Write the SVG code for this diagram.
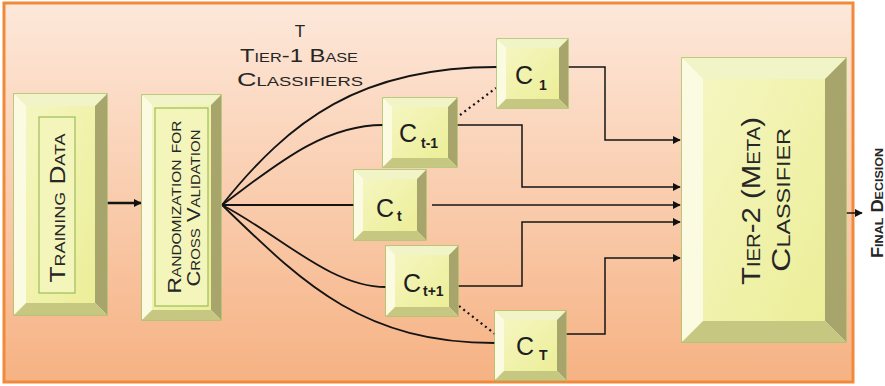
<svg xmlns="http://www.w3.org/2000/svg" width="885" height="386" viewBox="0 0 885 386">
<defs>
<linearGradient id="bg" x1="0" y1="0" x2="0" y2="1">
<stop offset="0" stop-color="#fde8da"/>
<stop offset="1" stop-color="#f6b283"/>
</linearGradient>
<linearGradient id="face" x1="0" y1="0" x2="1" y2="1">
<stop offset="0" stop-color="#f5f6c0"/>
<stop offset="1" stop-color="#ecee98"/>
</linearGradient>
<marker id="arr" viewBox="0 0 10 10" refX="9" refY="5" markerWidth="8" markerHeight="8" markerUnits="userSpaceOnUse" orient="auto">
<path d="M0,0 L10,5 L0,10 z" fill="#111"/>
</marker>
<style>
.out{fill:#fafbd8;stroke:#a6c46a;stroke-width:1.5}
.top{fill:#f1f4c6}
.lft{fill:#fafbe0}
.rgt{fill:#a8a56c}
.bot{fill:#c6c780}
.face{fill:url(#face)}
.inner{fill:#f3f5bb;stroke:#9dbd5a;stroke-width:1.2}
.t{font-family:"Liberation Sans",Arial,sans-serif;fill:#262626;font-variant:small-caps}
.c{font-family:"Liberation Sans",Arial,sans-serif;fill:#1e1e1e;font-size:25px}
.s{font-size:14px;font-weight:bold}
.ln{fill:none;stroke:#141414;stroke-width:1.8}
.ol{fill:none;stroke:#141414;stroke-width:1.5}
.dot{fill:none;stroke:#141414;stroke-width:2.2;stroke-dasharray:2 3.5}
</style>
</defs>
<rect x="4" y="3" width="849" height="379" fill="url(#bg)" stroke="#f08a3a" stroke-width="3"/>

<g id="connectors">
<line x1="107" y1="203" x2="141" y2="203" stroke="#141414" stroke-width="2.6" marker-end="url(#arr)"/>
<path class="ln" d="M222,205 C290,120 360,67 497,67"/>
<path class="ln" d="M222,205 C270,170 320,125 383,125"/>
<path class="ln" d="M222,205 L354,205"/>
<path class="ln" d="M222,205 C280,235 330,287 386,287"/>
<path class="ln" d="M222,205 C300,280 360,343 495,343"/>
<path class="ol" d="M568,67 H605 V140 H680" marker-end="url(#arr)"/>
<path class="ol" d="M457,125 H522 V187 H680" marker-end="url(#arr)"/>
<path class="ol" d="M432,205 H680" marker-end="url(#arr)"/>
<path class="ol" d="M458,286 H522 V222 H680" marker-end="url(#arr)"/>
<path class="ol" d="M566,334 H605 V258 H680" marker-end="url(#arr)"/>
<path class="ol" d="M846,213 H862" marker-end="url(#arr)"/>
<line class="dot" x1="460" y1="115" x2="496" y2="88"/>
<line class="dot" x1="459" y1="306" x2="495" y2="334"/>
</g>

<g id="training">
<rect class="out" x="14" y="94" width="93" height="221"/>
<polygon class="top" points="14,94 107,94 95,106 26,106"/>
<polygon class="lft" points="14,94 26,106 26,303 14,315"/>
<polygon class="rgt" points="107,94 107,315 95,303 95,106"/>
<polygon class="bot" points="14,315 107,315 95,303 26,303"/>
<rect class="face" x="26" y="106" width="69" height="197"/>
<rect class="inner" x="39" y="117" width="36" height="176"/>
<text class="t" font-size="22" text-anchor="middle" textLength="149" lengthAdjust="spacingAndGlyphs" transform="translate(65,208) rotate(-90)">Training Data</text>
</g>

<g id="randomization">
<rect class="out" x="142" y="95" width="79" height="225"/>
<polygon class="top" points="142,95 221,95 211,105 152,105"/>
<polygon class="lft" points="142,95 152,105 152,310 142,320"/>
<polygon class="rgt" points="221,95 221,320 211,310 211,105"/>
<polygon class="bot" points="142,320 221,320 211,310 152,310"/>
<rect class="face" x="152" y="105" width="59" height="205"/>
<rect class="inner" x="155" y="108" width="53" height="198"/>
<text class="t" font-size="19" text-anchor="middle" textLength="173" lengthAdjust="spacingAndGlyphs" transform="translate(181,207) rotate(-90)">Randomization for</text>
<text class="t" font-size="19" text-anchor="middle" textLength="157" lengthAdjust="spacingAndGlyphs" transform="translate(200,208) rotate(-90)">Cross Validation</text>
</g>

<g id="label-t">
<text class="t" font-size="17" x="300" y="37" text-anchor="middle">T</text>
<text class="t" font-size="19" x="299" y="62" text-anchor="middle" textLength="118" lengthAdjust="spacingAndGlyphs">Tier-1 Base</text>
<text class="t" font-size="19" x="300" y="86" text-anchor="middle" textLength="126" lengthAdjust="spacingAndGlyphs">Classifiers</text>
</g>

<g id="c1">
<rect class="out" x="497" y="39" width="71" height="69"/>
<polygon class="top" points="497,39 568,39 559,48 506,48"/>
<polygon class="lft" points="497,39 506,48 506,99 497,108"/>
<polygon class="rgt" points="568,39 568,108 559,99 559,48"/>
<polygon class="bot" points="497,108 568,108 559,99 506,99"/>
<rect class="face" x="506" y="48" width="53" height="51"/>
<text class="c" x="515" y="84">C<tspan class="s" x="539" y="90" font-weight="normal" font-size="15">1</tspan></text>
</g>

<g id="ct-1">
<rect class="out" x="383" y="98" width="74" height="69"/>
<polygon class="top" points="383,98 457,98 448,107 392,107"/>
<polygon class="lft" points="383,98 392,107 392,158 383,167"/>
<polygon class="rgt" points="457,98 457,167 448,158 448,107"/>
<polygon class="bot" points="383,167 457,167 448,158 392,158"/>
<rect class="face" x="392" y="107" width="56" height="51"/>
<text class="c" x="399" y="142">C<tspan class="s" x="421" y="148">t-1</tspan></text>
</g>

<g id="ct">
<rect class="out" x="354" y="170" width="72" height="70"/>
<polygon class="top" points="354,170 426,170 417,179 363,179"/>
<polygon class="lft" points="354,170 363,179 363,231 354,240"/>
<polygon class="rgt" points="426,170 426,240 417,231 417,179"/>
<polygon class="bot" points="354,240 426,240 417,231 363,231"/>
<rect class="face" x="363" y="179" width="54" height="52"/>
<text class="c" x="376" y="217">C<tspan class="s" x="397" y="221" font-size="15">t</tspan></text>
</g>

<g id="ct1">
<rect class="out" x="386" y="246" width="72" height="70"/>
<polygon class="top" points="386,246 458,246 449,255 395,255"/>
<polygon class="lft" points="386,246 395,255 395,307 386,316"/>
<polygon class="rgt" points="458,246 458,316 449,307 449,255"/>
<polygon class="bot" points="386,316 458,316 449,307 395,307"/>
<rect class="face" x="395" y="255" width="54" height="52"/>
<text class="c" x="403" y="292">C<tspan class="s" x="423" y="296">t+1</tspan></text>
</g>

<g id="cT">
<rect class="out" x="495" y="311" width="71" height="69"/>
<polygon class="top" points="495,311 566,311 557,320 504,320"/>
<polygon class="lft" points="495,311 504,320 504,371 495,380"/>
<polygon class="rgt" points="566,311 566,380 557,371 557,320"/>
<polygon class="bot" points="495,380 566,380 557,371 504,371"/>
<rect class="face" x="504" y="320" width="53" height="51"/>
<text class="c" x="516" y="355">C<tspan class="s" x="539" y="360" font-size="15">T</tspan></text>
</g>

<g id="tier2">
<rect class="out" x="682" y="58" width="164" height="284"/>
<polygon class="top" points="682,58 846,58 825,79 703,79"/>
<polygon class="lft" points="682,58 703,79 703,321 682,342"/>
<polygon class="rgt" points="846,58 846,342 825,321 825,79"/>
<polygon class="bot" points="682,342 846,342 825,321 703,321"/>
<rect class="face" x="703" y="79" width="122" height="242"/>
<text class="t" font-size="26" text-anchor="middle" textLength="168" lengthAdjust="spacingAndGlyphs" transform="translate(760,201) rotate(-90)">Tier-2 (Meta)</text>
<text class="t" font-size="26" text-anchor="middle" textLength="144" lengthAdjust="spacingAndGlyphs" transform="translate(790,200) rotate(-90)">Classifier</text>
</g>

<g id="final">
<text class="t" font-size="16" font-weight="bold" text-anchor="middle" textLength="110" lengthAdjust="spacingAndGlyphs" transform="translate(883,203) rotate(-90)">Final Decision</text>
</g>
</svg>
